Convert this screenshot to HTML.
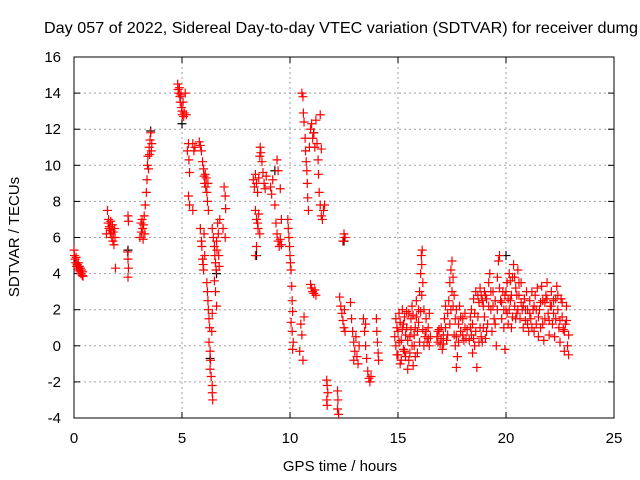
<!DOCTYPE html>
<html><head><meta charset="utf-8"><style>
body{margin:0;background:#fff;}
svg{display:block;font-family:"Liberation Sans",sans-serif;}
</style></head><body>
<svg id="chart" width="640" height="480" viewBox="0 0 640 480">
<rect width="640" height="480" fill="#fff"/>
<text x="44" y="33" font-size="16" textLength="594" lengthAdjust="spacingAndGlyphs" fill="#000">Day 057 of 2022, Sidereal Day-to-day VTEC variation (SDTVAR) for receiver dumg</text>
<g id="grid"></g>
<g id="axes"></g>
<g id="marks"></g>
<text transform="translate(19,237) rotate(-90)" text-anchor="middle" font-size="15">SDTVAR / TECUs</text>
<text x="340" y="471" text-anchor="middle" font-size="15">GPS time / hours</text>
</svg>
<script>
const xTicks=[0,5,10,15,20,25];
const yTicks=[-4,-2,0,2,4,6,8,10,12,14,16];
const morning=[[0,5.3],[0.02,5.0],[0.05,4.8],[0.08,4.6],[0.1,4.9],[0.12,4.4],[0.15,4.5],[0.18,4.3],[0.2,4.6],[0.22,4.2],[0.25,4.4],[0.28,4.1],[0.3,4.3],[0.32,4.0],[0.35,4.2],[0.38,3.9],[0.4,4.1],[0.42,3.85],
[1.5,6.2],[1.55,7.5],[1.58,6.8],[1.6,7.0],[1.62,6.5],[1.65,6.6],[1.68,6.2],[1.7,6.9],[1.72,6.4],[1.75,6.0],[1.78,6.7],[1.8,5.8],[1.82,6.3],[1.85,5.6],[1.88,6.5],[1.9,6.0],[1.92,4.3],
[2.5,7.2],[2.52,6.9],[2.48,5.2],[2.5,4.8],[2.52,4.3],[2.5,3.8],
[3.05,6.0],[3.1,6.8],[3.12,6.3],[3.15,7.0],[3.18,6.5],[3.2,5.9],[3.22,6.7],[3.25,7.2],[3.28,6.2],
[3.3,7.8],[3.35,8.5],[3.38,9.2],[3.4,10.0],[3.42,10.5],[3.45,9.8],[3.48,11.0],[3.5,10.6],[3.52,11.4],[3.55,11.8],[3.58,10.8],[3.6,11.2]];
const forenoon=[[4.8,14.5],[4.82,14.2],[4.85,14.0],[4.88,14.3],[4.9,13.8],[4.92,13.5],[4.95,13.9],[4.98,13.2],[5.0,13.0],[5.02,12.8],[5.05,13.5],[5.08,12.7],[5.1,12.9],[5.15,14.0],[5.2,12.8],
[5.25,10.8],[5.3,11.2],[5.32,10.3],[5.35,9.6],[5.3,8.3],[5.35,7.8],[5.5,7.5],[5.5,11.2],[5.55,10.8],[5.6,11.0],
[5.8,11.3],[5.85,11.1],[5.9,10.8],[5.95,10.2],[6.0,9.8],[6.02,9.4],[6.05,9.0],[6.08,9.5],[6.1,8.8],[6.12,9.3],[6.15,8.5],[6.18,8.0],[6.2,9.0],[6.22,7.5],
[5.85,6.5],[5.9,5.8],[5.92,5.5],[5.95,4.8],[5.98,4.5],[6.0,4.2],[6.02,6.2],[6.05,5.0],
[6.15,3.5],[6.18,3.0],[6.2,2.5],[6.22,2.0],[6.25,1.5],[6.28,1.0],[6.25,0.2],[6.3,-0.3],[6.32,-0.8],[6.3,-1.3],[6.35,-1.7],[6.4,-2.2],[6.4,-2.6],[6.42,-3.0],[6.38,0.8],[6.4,1.8],
[6.4,6.5],[6.45,6.0],[6.5,5.5],[6.52,5.0],[6.55,4.6],[6.58,4.2],[6.6,5.8],[6.62,5.3],[6.65,6.8],[6.68,6.2],[6.7,5.0],[6.72,4.4],[6.75,7.0],[6.5,3.6],[6.55,3.0],[6.6,2.2],
[6.95,8.8],[7.0,8.3],[7.02,7.6],[7.0,6.0],[6.9,6.5]];
const midday=[[8.3,9.2],[8.35,8.8],[8.4,9.5],[8.45,9.0],[8.5,8.5],[8.55,9.3],[8.6,10.5],[8.62,11.0],[8.65,10.7],[8.7,10.2],[8.75,9.6],[8.8,9.0],[8.85,8.7],[8.9,9.4],
[8.4,7.5],[8.45,7.0],[8.5,6.8],[8.52,6.5],[8.55,7.3],[8.6,6.2],[8.45,5.5],[8.4,5.0],
[9.1,8.8],[9.15,8.4],[9.2,9.2],[9.3,7.8],[9.35,6.8],[9.4,6.2],[9.45,5.8],[9.5,5.5],[9.55,5.9],[9.6,5.6],[9.4,10.3],[9.45,9.7],[9.55,8.7],[9.6,7.0],
[9.9,7.0],[9.92,6.5],[9.95,6.0],[9.98,5.5],[10.0,5.0],[10.02,4.6],[10.05,4.2],[10.08,3.3],[10.1,2.5],[10.12,1.9],[10.05,1.3],[10.1,0.8],[10.15,0.2],[10.12,-0.2],
[10.55,14.0],[10.6,13.8],[10.62,12.9],[10.65,12.4],[10.7,11.5],[10.72,10.8],[10.75,10.2],[10.78,9.7],[10.8,9.0],[10.82,8.2],[10.85,7.5],
[10.9,11.0],[10.95,12.0],[11.0,12.3],[11.05,11.5],[11.1,11.8],[11.15,11.0],[11.2,12.5],[11.25,11.2],[11.3,10.3],[11.32,9.5],[11.35,8.5],[11.4,7.8],[11.45,7.2],[11.5,7.0],[11.55,7.5],[11.6,7.8],[11.4,12.8],[11.45,10.9],
[11.0,3.2],[11.05,3.0],[11.1,2.9],[11.15,3.1],[11.2,2.8],[10.95,3.4],
[10.5,1.2],[10.55,0.6],[10.45,-0.3],[10.6,-0.8],[10.65,1.6],
[11.7,-1.9],[11.72,-2.2],[11.75,-2.6],[11.7,-3.0],[11.72,-3.3],[12.2,-2.5],[12.22,-3.0],[12.2,-3.5],[12.25,-3.8],
[12.5,6.2],[12.55,6.0],[12.45,5.8],
[12.3,2.7],[12.35,2.2],[12.4,1.8],[12.45,1.4],[12.5,1.0],[12.52,2.0],[12.55,0.8],
[12.8,2.4],[12.85,1.5],[12.9,0.8],[12.95,0.2],[13.0,-0.3],[13.05,0.5],[13.1,-0.6],[13.15,-1.0],[13.2,0.0],[12.95,-0.8],
[13.4,1.5],[13.45,0.8],[13.5,0.0],[13.55,-0.7],[13.6,-1.4],[13.65,-1.8],[13.7,-2.0],[13.75,-1.7],[13.5,1.2],
[14.0,1.5],[14.02,0.8],[14.05,0.2],[14.08,-0.4],[14.1,-0.8]];
const evening=[[14.85,0.5],[14.9,1.5],[14.95,-0.5],[15.0,0.8],[15.05,1.8],[15.1,-1.0],[15.15,0.3],[15.2,2.0],[15.25,1.2],[15.3,-0.3],[15.35,0.6],[15.4,1.9],[15.45,-1.3],[15.5,-0.8],[15.55,0.5],[15.6,1.5],[15.65,2.2],[15.7,-1.1],[15.75,0.0],[15.8,1.0],[15.85,2.5],[15.9,-0.4],[15.95,1.3],[16.0,3.0],[16.05,4.0],[16.08,5.0],[16.1,4.5],[16.12,5.3],[16.15,3.5],[16.2,2.0],[16.25,0.5],[16.3,1.5],[16.35,0.2],[16.4,1.0],[16.45,1.8],[16.5,0.5],
[16.8,0.5],[16.85,0.2],[16.9,0.9],[17.0,0.4],[17.05,-0.2],[17.1,0.6],[17.15,1.5],[17.2,2.2],[17.25,0.3],[17.3,1.8],[17.35,2.5],[17.4,3.5],[17.45,4.2],[17.5,4.7],[17.55,3.8],[17.6,2.8],[17.65,1.5],[17.7,0.5],[17.75,-0.6],[17.8,1.2],[17.85,2.2],[17.9,0.8],[18.0,1.5],[18.05,0.3],[18.1,1.8],[18.2,0.9],[17.7,-1.2],
[18.3,0.3],[18.35,1.0],[18.4,2.0],[18.45,-0.4],[18.5,2.6],[18.55,0.0],[18.6,3.0],[18.65,-1.2],[18.7,2.8],[18.75,0.2],[18.8,3.2],[18.85,0.5],[18.9,2.5],[18.95,1.0],[19.0,3.0],[19.05,0.4],[19.1,2.6],[19.15,1.2],[19.2,3.5],[19.25,4.0],[19.3,2.0],[19.35,0.8],[19.4,3.0],[19.45,1.5],[19.5,2.5],[19.55,0.0],[19.6,3.8],[19.65,4.7],[19.7,5.0],[19.75,2.5],[19.8,1.5],[19.85,3.0],[19.9,2.0],[19.95,-0.2],
[20.0,2.0],[20.05,3.5],[20.1,1.2],[20.15,4.0],[20.2,2.5],[20.25,1.0],[20.3,3.8],[20.35,4.5],[20.4,2.2],[20.45,3.2],[20.5,1.8],[20.55,4.2],[20.6,2.8],[20.65,1.5],[20.7,3.5],[20.75,2.0],[20.8,1.0],[20.85,2.6],[20.9,1.4],[20.95,3.0],[21.0,2.0],[21.05,0.8],
[21.1,2.5],[21.15,1.5],[21.2,3.0],[21.25,2.0],[21.3,0.8],[21.35,2.8],[21.4,1.2],[21.45,3.2],[21.5,0.5],[21.55,2.0],[21.6,1.0],[21.65,3.3],[21.7,2.5],[21.75,0.3],[21.8,1.5],[21.85,2.8],[21.9,3.5],[21.95,1.8],[22.0,0.6],[22.05,2.2],[22.1,3.0],[22.15,1.2],[22.2,2.5],[22.25,0.5],[22.3,1.5],[22.35,3.3],[22.4,2.0],[22.45,1.0],[22.5,0.2],[22.55,2.6],[22.6,1.6],[22.65,0.9],[22.7,-0.3],[22.75,1.2],[22.8,2.2],[22.85,0.0],[22.9,-0.5]];
const eveningExtra=[[14.9,0.0],[14.95,1.0],[15.0,-0.5],[15.05,0.2],[15.1,1.3],[15.15,-0.8],[15.2,0.9],[15.25,-0.2],[15.3,1.6],[15.35,-0.6],[15.4,1.0],[15.45,0.3],[15.5,1.8],[15.55,-0.4],[15.6,0.9],[15.65,0.0],[15.7,1.7],[15.75,0.6],[15.8,-0.6],[15.85,1.6],[15.9,0.8],[15.95,2.0],[16.0,0.2],[16.05,1.9],[16.1,2.8],[16.15,0.9],[16.2,0.0],[16.3,0.8],[16.4,0.4],[16.45,0.0],
[16.85,0.8],[16.95,0.1],[17.0,1.0],[17.1,0.1],[17.2,1.0],[17.3,0.6],[17.4,1.2],[17.45,2.0],[17.5,3.0],[17.55,2.2],[17.6,0.6],[17.65,0.0],[17.7,2.0],[17.8,0.2],[17.9,1.6],[18.0,0.6],[18.1,1.0],[18.15,0.4],
[18.35,1.6],[18.4,0.6],[18.45,1.2],[18.5,0.4],[18.55,1.8],[18.6,0.8],[18.7,1.6],[18.75,2.4],[18.8,1.0],[18.85,2.8],[18.9,0.2],[18.95,2.2],[19.0,1.6],[19.05,2.8],[19.1,0.8],[19.2,2.2],[19.3,3.0],[19.4,2.2],[19.5,1.2],[19.6,2.0],[19.7,3.2],[19.8,2.4],[19.9,1.0],[19.95,2.8],
[20.0,3.0],[20.05,1.8],[20.1,2.6],[20.15,2.0],[20.2,3.6],[20.25,2.8],[20.3,1.6],[20.4,3.8],[20.45,1.5],[20.5,2.8],[20.55,2.0],[20.6,3.5],[20.7,2.4],[20.8,2.2],[20.9,2.0],[21.0,1.2],
[21.1,1.8],[21.2,1.0],[21.3,2.2],[21.4,2.0],[21.5,1.6],[21.6,2.4],[21.7,1.2],[21.8,2.4],[21.9,2.6],[22.0,1.4],[22.1,2.2],[22.2,1.8],[22.3,2.6],[22.4,2.8],[22.5,1.4],[22.6,2.4],[22.7,0.8],[22.8,1.4],[22.9,0.6]];
const blackPts=[[3.55,11.9],[5.0,12.3],[6.3,-0.7],[9.3,9.7],[8.45,5.0],[11.1,11.8],[12.5,5.8],[20.0,5.0],[2.5,5.3],[6.6,4.0]];

const L=74,R=614,T=57,B=418,xMin=0,xMax=25,yMin=-4,yMax=16;
const xs=h=>L+(h-xMin)/(xMax-xMin)*(R-L);
const ys=v=>B-(v-yMin)/(yMax-yMin)*(B-T);
const NS='http://www.w3.org/2000/svg';
function mk(tag,attrs,parent){const e=document.createElementNS(NS,tag);for(const k in attrs)e.setAttribute(k,attrs[k]);parent.appendChild(e);return e;}
const grid=document.getElementById('grid'),axes=document.getElementById('axes'),marks=document.getElementById('marks');
xTicks.forEach(t=>{
  const x=xs(t);
  if(t>xMin&&t<xMax){const g=mk('line',{x1:x,x2:x,y1:T,y2:B,stroke:'#a0a0a0','stroke-dasharray':'2,3'},grid);
  
  }
  mk('line',{x1:x,x2:x,y1:B,y2:B-6,stroke:'#000'},axes);
  mk('line',{x1:x,x2:x,y1:T,y2:T+6,stroke:'#000'},axes);
  const tx=mk('text',{x:x,y:B+25,'text-anchor':'middle','font-size':'15'},axes);
  tx.textContent=t;
  
  
});
yTicks.forEach(t=>{
  const y=ys(t);
  if(t>yMin&&t<yMax){const g=mk('line',{x1:L,x2:R,y1:y,y2:y,stroke:'#a0a0a0','stroke-dasharray':'2,3'},grid);
  
  }
  mk('line',{x1:L,x2:L+6,y1:y,y2:y,stroke:'#000'},axes);
  mk('line',{x1:R,x2:R-6,y1:y,y2:y,stroke:'#000'},axes);
  const tx=mk('text',{x:L-13,y:y+5,'text-anchor':'end','font-size':'15'},axes);
  tx.textContent=t;
  
  
});
const frame=mk('rect',{x:L,y:T,width:R-L,height:B-T,fill:'none',stroke:'#000','stroke-width':'1'},axes);


function plus(p,color){
  const x=xs(p[0]),y=ys(p[1]);
  const e=mk('path',{d:`M${x-4.5},${y}H${x+4.5}M${x},${y-4.5}V${y+4.5}`,stroke:color,'stroke-width':'1.2',fill:'none'},marks);
  
  
}
blackPts.forEach(p=>plus(p,'#000'));
[morning,forenoon,midday,evening,eveningExtra].forEach(s=>s.forEach(p=>plus(p,'#ff0000')));
</script>
</body></html>
